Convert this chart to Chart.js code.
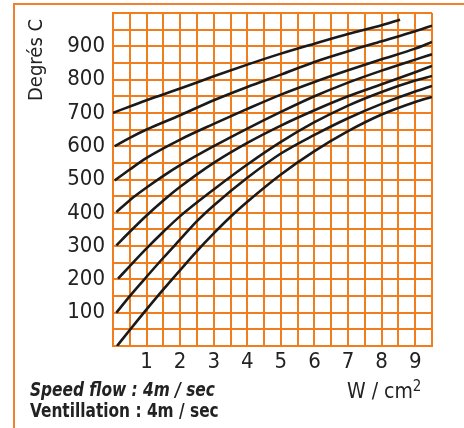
<!DOCTYPE html>
<html>
<head>
<meta charset="utf-8">
<script src="https://cdn.jsdelivr.net/npm/chart.js@4"></script>
<style>
  html, body { margin: 0; padding: 0; background: #fff; }
  #wrap { position: relative; width: 464px; height: 428px; overflow: hidden; }
  #frame { position: absolute; left: 13px; top: 3px; right: -5px; bottom: -5px;
           border-left: 2px solid #F08030; border-top: 2px solid #F08030; }
  .txt { position: absolute; color: #222; white-space: nowrap;
         font-family: 'DejaVu Sans Condensed', 'Liberation Sans Narrow', sans-serif; }
  #ytitle { left: 24px; top: 101px; font-size: 20px; line-height: 22px;
            transform-origin: 0 0; transform: rotate(-90deg); }
  #xtitle { left: 347px; top: 379px; font-size: 21px; line-height: 24px; }
  #xtitle sup { font-size: 15px; vertical-align: 7px; line-height: 0; }
  #note1 { left: 30px; top: 378px; font-size: 19px; font-weight: bold; font-style: italic; line-height: 22px;
           transform-origin: 0 0; transform: scaleX(0.9); }
  #note2 { left: 30px; top: 399px; font-size: 19px; font-weight: bold; line-height: 22px;
           transform-origin: 0 0; transform: scaleX(0.9); }
  canvas { position: absolute; left: 0; top: 0; }
</style>
</head>
<body>
<div id="wrap">
  <div id="frame"></div>
  <canvas id="c" width="464" height="428"></canvas>
  <div class="txt" id="ytitle">Degrés C</div>
  <div class="txt" id="xtitle">W / cm<sup>2</sup></div>
  <div class="txt" id="note1">Speed flow : 4m / sec</div>
  <div class="txt" id="note2">Ventillation : 4m / sec</div>
</div>
<script>
// Tick labels
const xTickLabels = [1, 2, 3, 4, 5, 6, 7, 8, 9];
const yTickLabels = [100, 200, 300, 400, 500, 600, 700, 800, 900];

// Curves (W/cm2 -> degrees C)
const c1X = [0, 1, 2, 3, 4, 5, 6, 7, 8, 8.55];
const c1Y = [700, 738, 773, 810, 845, 878, 908, 937, 963, 980];
const c2X = [0.05, 0.5, 1, 2, 3, 4, 5, 6, 7, 8, 9, 9.5];
const c2Y = [600, 625, 650, 693, 738, 778, 815, 853, 885, 915, 945, 962];
const c3X = [0.05, 0.5, 1, 2, 3, 4, 5, 6, 7, 8, 9, 9.5];
const c3Y = [497, 530, 565, 620, 667, 712, 755, 793, 828, 861, 893, 913];
const c4X = [0.1, 0.5, 1, 1.5, 2, 3, 4, 5, 6, 7, 8, 9, 9.5];
const c4Y = [402, 438, 476, 511, 543, 600, 653, 703, 750, 791, 827, 860, 876];
const c5X = [0.1, 0.5, 1, 1.5, 2, 3, 4, 5, 6, 7, 8, 9, 9.5];
const c5Y = [302, 343, 392, 437, 478, 550, 610, 662, 708, 750, 786, 822, 841];
const c6X = [0.15, 0.5, 1, 1.5, 2, 3, 4, 5, 6, 7, 8, 9, 9.5];
const c6Y = [202, 240, 293, 343, 390, 470, 545, 613, 672, 722, 763, 797, 811];
const c7X = [0.1, 0.5, 1, 1.5, 2, 2.5, 3, 4, 5, 6, 7, 8, 9, 9.5];
const c7Y = [100, 150, 208, 265, 320, 375, 422, 505, 578, 634, 684, 727, 764, 781];
const c8X = [0.12, 0.5, 1, 1.5, 2, 2.5, 3, 3.5, 4, 5, 6, 7, 8, 9, 9.5];
const c8Y = [0, 48, 110, 170, 228, 285, 338, 388, 433, 515, 585, 645, 695, 733, 748];

const curves = [[c1X, c1Y], [c2X, c2Y], [c3X, c3Y], [c4X, c4Y], [c5X, c5Y], [c6X, c6Y], [c7X, c7Y], [c8X, c8Y]];

const ORANGE = '#F07D1E';
const FONT = "'DejaVu Sans Condensed', 'Liberation Sans Narrow', sans-serif";

new Chart(document.getElementById('c'), {
  type: 'line',
  data: {
    datasets: curves.map(([xs, ys], i) => ({
      label: 'c' + (i + 1),
      data: xs.map((x, j) => ({ x: x, y: ys[j] })),
      borderColor: '#1a1a1a',
      borderWidth: 2.6,
      pointRadius: 0,
      fill: false,
      cubicInterpolationMode: 'monotone'
    }))
  },
  options: {
    responsive: false,
    animation: false,
    events: [],
    layout: { padding: { top: 13, right: 32, left: 0, bottom: 0 } },
    plugins: { legend: { display: false }, tooltip: { enabled: false } },
    scales: {
      x: {
        type: 'linear', min: 0, max: 9.5,
        grid: { color: ORANGE, lineWidth: 2, drawTicks: false },
        border: { color: ORANGE, width: 2 },
        ticks: {
          stepSize: 0.5, autoSkip: false, maxRotation: 0, padding: 3,
          color: '#222', font: { family: FONT, size: 22 },
          callback: v => xTickLabels.includes(v) ? String(v) : ''
        },
        afterFit: s => { s.height = 82; s.paddingLeft = 0; s.paddingRight = 0; }
      },
      y: {
        type: 'linear', min: 0, max: 1000,
        grid: { color: ORANGE, lineWidth: 2, drawTicks: false },
        border: { color: ORANGE, width: 2 },
        ticks: {
          stepSize: 50, autoSkip: false, padding: 8,
          color: '#222', font: { family: FONT, size: 22 },
          callback: v => yTickLabels.includes(v) ? String(v) : ''
        },
        afterFit: s => { s.width = 113; s.paddingTop = 0; s.paddingBottom = 0; }
      }
    }
  }
});
</script>
</body>
</html>
